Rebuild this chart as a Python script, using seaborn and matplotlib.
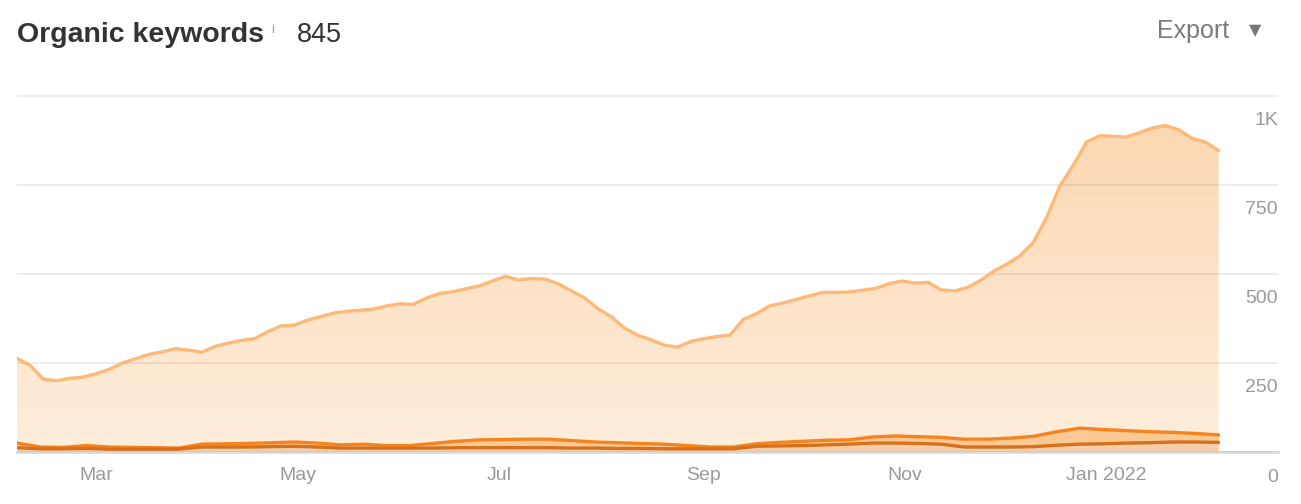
import numpy as np
import pandas as pd
import matplotlib
matplotlib.use("Agg")
import matplotlib.pyplot as plt
import matplotlib.dates as mdates
from matplotlib.colors import LinearSegmentedColormap
from matplotlib.ticker import FuncFormatter
from matplotlib.transforms import ScaledTranslation
import seaborn as sns

# total keywords, read every 4 days, Feb 2021 - Feb 2022
total_dates = pd.date_range("2021-02-05", periods=92, freq="4D")
total = [263, 243, 204, 200, 207, 210, 220, 232, 250, 262,
         274, 281, 290, 286, 280, 296, 306, 313, 318, 338,
         354, 356, 370, 380, 390, 395, 398, 401, 410, 416,
         414, 432, 445, 450, 458, 466, 480, 493, 483, 487,
         485, 472, 452, 432, 402, 380, 348, 328, 315, 300,
         294, 310, 318, 324, 328, 372, 388, 410, 418, 428,
         438, 448, 448, 449, 454, 459, 472, 480, 474, 476,
         455, 452, 462, 482, 508, 528, 552, 590, 660, 748,
         805, 870, 888, 886, 884, 896, 910, 916, 904, 880,
         870, 846]

# positions 1-10 and 1-3 (cumulative), read weekly
band_dates = pd.date_range("2021-02-05", periods=53, freq="7D")
top10 = [25, 14, 13, 18, 14, 13, 12, 11, 22, 23,
         24, 26, 28, 25, 20, 22, 18, 18, 24, 30,
         34, 35, 36, 36, 32, 28, 26, 24, 22, 18,
         14, 14, 23, 27, 30, 33, 34, 42, 45, 43,
         41, 36, 36, 39, 44, 57, 67, 63, 60, 57,
         55, 52, 48]
top3 = [12, 9, 9, 10, 8, 8, 8, 8, 14, 14,
        14, 15, 16, 14, 11, 11, 11, 11, 11, 12,
        12, 12, 12, 12, 11, 11, 10, 10, 9, 9,
        9, 9, 16, 17, 18, 20, 22, 25, 25, 24,
        22, 14, 14, 14, 15, 19, 22, 23, 25, 26,
        28, 28, 27]
y_ticks = [0, 250, 500, 750, 1000]
y_labels = ["0", "250", "500", "750", "1K"]
month_ticks = [3, 5, 7, 9, 11, 1]

df_total = pd.DataFrame({"date": total_dates, "total": total})
df_band = pd.DataFrame({"date": band_dates, "top10": top10, "top3": top3})

sns.set_theme(style="white")
plt.rcParams["font.family"] = ["Liberation Sans", "DejaVu Sans"]

W, H = 1301, 504
fig = plt.figure(figsize=(W / 100, H / 100), dpi=100)
ax = fig.add_axes([17 / W, 52 / H, (1278 - 17) / W, (452 - 95) / H])

# gradient fill under the total line
cmap = LinearSegmentedColormap.from_list("peach", ["#feeedd", "#fcd5ae"])
grad = np.linspace(0, 1, 256).reshape(-1, 1)
x0, x1 = mdates.date2num(total_dates[0]), mdates.date2num(total_dates[-1])
im = ax.imshow(grad, extent=[x0, x1, 0, 1000], origin="lower", aspect="auto",
               cmap=cmap, zorder=1)
poly = ax.fill_between(df_total["date"], df_total["total"], 0,
                       facecolor="none", edgecolor="none")
im.set_clip_path(poly.get_paths()[0], transform=ax.transData)

ax.fill_between(df_band["date"], df_band["top10"], df_band["top3"],
                color="#fbc994", lw=0, zorder=1.5)
ax.fill_between(df_band["date"], df_band["top3"], 0, color="#f4cfac", lw=0, zorder=1.5)

sns.lineplot(data=df_total, x="date", y="total", ax=ax, color="#fdb978", lw=2.4, zorder=3)
sns.lineplot(data=df_band, x="date", y="top10", ax=ax, color="#f5841f", lw=2.4, zorder=3.2)
sns.lineplot(data=df_band, x="date", y="top3", ax=ax, color="#d8701b", lw=2.4, zorder=3.4)

ax.set_xlim(pd.Timestamp("2021-02-05"), pd.Timestamp("2022-02-22"))
ax.set_ylim(0, 1002)
ax.set_xlabel("")
ax.set_ylabel("")

# grid / spines
ax.set_yticks(y_ticks)
ax.set_yticklabels([])
ax.tick_params(axis="y", length=0)
ax.grid(axis="y", color="#000000", alpha=0.08, lw=1.3, zorder=2.5)
ax.grid(axis="x", visible=False)
for s in ["top", "left", "right"]:
    ax.spines[s].set_visible(False)
ax.spines["bottom"].set_color("#dadada")
ax.spines["bottom"].set_linewidth(2)
ax.set_axisbelow(False)

ax.xaxis.set_major_locator(mdates.MonthLocator(bymonth=month_ticks))
ax.xaxis.set_major_formatter(FuncFormatter(
    lambda v, _: mdates.num2date(v).strftime("%b %Y") if mdates.num2date(v).month == 1
    else mdates.num2date(v).strftime("%b")))
ax.tick_params(axis="x", direction="in", length=10, width=1, color="#e4d8cc",
               labelsize=14, labelcolor="#9a9a9a", pad=11)

# y labels sit inside on the right, just below each gridline
off = ScaledTranslation(0, -25 / 100, fig.dpi_scale_trans)
for v, lab in zip(y_ticks, y_labels):
    ax.text(1.0, v, lab, transform=ax.get_yaxis_transform() + off, ha="right",
            va="center", fontsize=14, color="#9a9a9a")

# header
fig.text(17 / W, 1 - 42 / H, "Organic keywords", fontsize=20.5, fontweight="bold",
         color="#333333", va="baseline")
fig.text(271 / W, 1 - 33 / H, "i", fontsize=9.5, color="#a0a0a0", va="baseline")
fig.text(297 / W, 1 - 42 / H, "845", fontsize=19.5, color="#333333", va="baseline")
fig.text(1157 / W, 1 - 38 / H, "Export", fontsize=18, color="#7b7b7b", va="baseline")
fig.text(1255.5 / W, 1 - 30.5 / H, "\u25bc", fontsize=11.5, color="#777777",
         ha="center", va="center", family=["DejaVu Sans"])

fig.savefig("out.png", dpi=100)
